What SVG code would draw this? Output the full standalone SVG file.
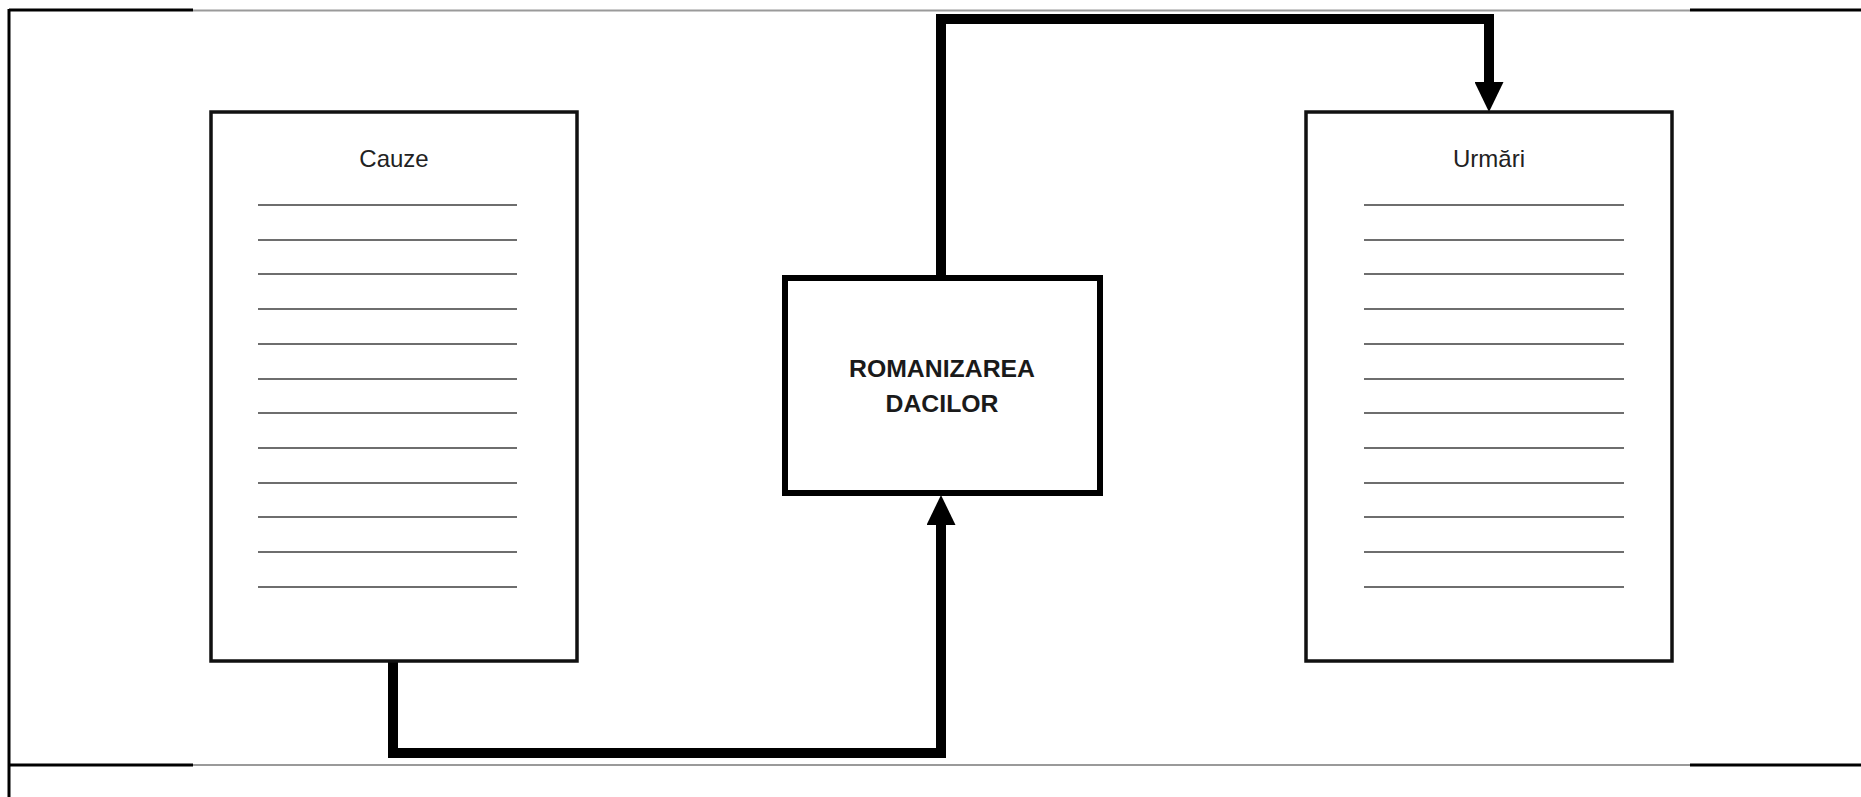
<svg xmlns="http://www.w3.org/2000/svg" width="1861" height="797" viewBox="0 0 1861 797">
<style>
.frame{stroke:#000;stroke-width:3;fill:none}
.frameg{stroke:#9a9a9a;stroke-width:2;fill:none}
.box{fill:#fff;stroke:#111;stroke-width:3.5}
.cbox{fill:#fff;stroke:#000;stroke-width:6}
.ln{stroke:#6e6e6e;stroke-width:2}
.t{font-family:"Liberation Sans",Arial,sans-serif;font-size:24px;fill:#222;text-anchor:middle}
.tb{font-family:"Liberation Sans",Arial,sans-serif;font-size:24.8px;font-weight:bold;fill:#1a1a1a;text-anchor:middle}
.conn{stroke:#000;stroke-width:10;fill:none;stroke-linejoin:miter;stroke-linecap:butt}
</style>
<defs>
<marker id="ah" markerUnits="userSpaceOnUse" viewBox="0 0 30 29" refX="0" refY="14.5" markerWidth="30" markerHeight="29" orient="auto">
<path d="M0,0 L30,14.5 L0,29 z" fill="#000"/>
</marker>
</defs>
<rect width="1861" height="797" fill="#fff"/>
<g id="frame">
<line class="frame" x1="9" y1="9" x2="9" y2="797"/>
<line class="frame" x1="9" y1="10" x2="193" y2="10"/>
<line class="frameg" x1="193" y1="10.5" x2="1690" y2="10.5"/>
<line class="frame" x1="1690" y1="10" x2="1861" y2="10"/>
<line class="frame" x1="9" y1="765" x2="193" y2="765"/>
<line class="frameg" x1="193" y1="765" x2="1690" y2="765"/>
<line class="frame" x1="1690" y1="765" x2="1861" y2="765"/>
</g>
<g id="connectors">
<path class="conn" d="M393,661 V753 H941 V525" marker-end="url(#ah)"/>
<path class="conn" d="M941,278 V19 H1489 V82" marker-end="url(#ah)"/>
</g>
<g id="cauze">
<rect class="box" x="211" y="112" width="366" height="549"/>
<text class="t" x="394" y="167">Cauze</text>
<g class="ln">
<line x1="258" y1="205" x2="517" y2="205"/>
<line x1="258" y1="240" x2="517" y2="240"/>
<line x1="258" y1="274" x2="517" y2="274"/>
<line x1="258" y1="309" x2="517" y2="309"/>
<line x1="258" y1="344" x2="517" y2="344"/>
<line x1="258" y1="379" x2="517" y2="379"/>
<line x1="258" y1="413" x2="517" y2="413"/>
<line x1="258" y1="448" x2="517" y2="448"/>
<line x1="258" y1="483" x2="517" y2="483"/>
<line x1="258" y1="517" x2="517" y2="517"/>
<line x1="258" y1="552" x2="517" y2="552"/>
<line x1="258" y1="587" x2="517" y2="587"/>
</g>
</g>
<g id="romanizarea">
<rect class="cbox" x="785" y="278" width="315" height="215"/>
<text class="tb" x="942" y="377">ROMANIZAREA</text>
<text class="tb" x="942" y="412">DACILOR</text>
</g>
<g id="urmari">
<rect class="box" x="1306" y="112" width="366" height="549"/>
<text class="t" x="1489" y="167">Urmări</text>
<g class="ln">
<line x1="1364" y1="205" x2="1624" y2="205"/>
<line x1="1364" y1="240" x2="1624" y2="240"/>
<line x1="1364" y1="274" x2="1624" y2="274"/>
<line x1="1364" y1="309" x2="1624" y2="309"/>
<line x1="1364" y1="344" x2="1624" y2="344"/>
<line x1="1364" y1="379" x2="1624" y2="379"/>
<line x1="1364" y1="413" x2="1624" y2="413"/>
<line x1="1364" y1="448" x2="1624" y2="448"/>
<line x1="1364" y1="483" x2="1624" y2="483"/>
<line x1="1364" y1="517" x2="1624" y2="517"/>
<line x1="1364" y1="552" x2="1624" y2="552"/>
<line x1="1364" y1="587" x2="1624" y2="587"/>
</g>
</g>
</svg>
